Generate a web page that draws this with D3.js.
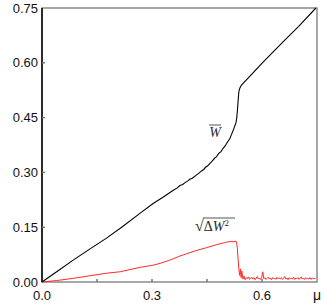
<!DOCTYPE html>
<html>
<head>
<meta charset="utf-8">
<script src="https://cdn.jsdelivr.net/npm/d3@7"></script>
<style>
  body { margin: 0; background: #fff; }
  svg { display: block; }
</style>
</head>
<body>
<svg id="chart" width="327" height="305"></svg>
<script>
// mean W versus mu (black)
const muW = [0, 0.04, 0.085, 0.13, 0.176, 0.22, 0.267, 0.303, 0.33, 0.349, 0.358, 0.368, 0.376, 0.384, 0.39, 0.397, 0.403, 0.41, 0.42, 0.428, 0.435, 0.441, 0.446, 0.452, 0.458, 0.464, 0.47, 0.476, 0.482, 0.488, 0.494, 0.50, 0.505, 0.512, 0.517, 0.524, 0.529, 0.531, 0.533, 0.535, 0.537, 0.540, 0.544, 0.603, 0.66, 0.70, 0.747];
const valW = [0, 0.028, 0.060, 0.090, 0.120, 0.152, 0.188, 0.215, 0.232, 0.245, 0.251, 0.257, 0.264, 0.267, 0.272, 0.276, 0.281, 0.284, 0.292, 0.298, 0.304, 0.308, 0.314, 0.318, 0.325, 0.331, 0.338, 0.343, 0.352, 0.357, 0.366, 0.373, 0.382, 0.392, 0.404, 0.422, 0.436, 0.448, 0.470, 0.498, 0.522, 0.532, 0.539, 0.602, 0.660, 0.700, 0.750];

// fluctuation sqrt(<dW^2>) versus mu (red)
const muD = [0, 0.04, 0.085, 0.13, 0.176, 0.213, 0.267, 0.303, 0.322, 0.349, 0.376, 0.394, 0.42, 0.449, 0.475, 0.503, 0.515, 0.522, 0.529, 0.531, 0.533, 0.535, 0.537, 0.539,
  0.541, 0.543, 0.545, 0.548, 0.551, 0.554, 0.557, 0.560, 0.563, 0.566, 0.569, 0.572, 0.575, 0.578, 0.581, 0.584, 0.587, 0.590, 0.593, 0.596, 0.599, 0.602, 0.605, 0.608, 0.611,
  0.614, 0.617, 0.620, 0.623, 0.626, 0.629, 0.632, 0.635, 0.638, 0.641, 0.644, 0.647, 0.650, 0.653, 0.656, 0.659, 0.662, 0.665, 0.668, 0.671, 0.674, 0.677, 0.680,
  0.683, 0.686, 0.689, 0.692, 0.695, 0.698, 0.701, 0.704, 0.707, 0.710, 0.713, 0.716, 0.719, 0.722, 0.725, 0.728, 0.731, 0.734, 0.737, 0.740, 0.745];
const valD = [0, 0.004, 0.010, 0.017, 0.024, 0.028, 0.040, 0.046, 0.051, 0.060, 0.071, 0.077, 0.086, 0.094, 0.102, 0.109, 0.111, 0.110, 0.112, 0.106, 0.090, 0.060, 0.034, 0.018,
  0.036, 0.012, 0.030, 0.008, 0.016, 0.006, 0.012, 0.009, 0.014, 0.007, 0.011, 0.013, 0.008, 0.012, 0.006, 0.010, 0.015, 0.008, 0.011, 0.007, 0.012, 0.028, 0.009, 0.012, 0.007,
  0.010, 0.013, 0.008, 0.011, 0.006, 0.012, 0.009, 0.010, 0.007, 0.013, 0.009, 0.011, 0.008, 0.012, 0.007, 0.010, 0.015, 0.008, 0.011, 0.006, 0.012, 0.009, 0.010,
  0.008, 0.013, 0.007, 0.011, 0.009, 0.012, 0.007, 0.010, 0.014, 0.008, 0.011, 0.007, 0.012, 0.009, 0.010, 0.008, 0.012, 0.007, 0.011, 0.009, 0.010];

const xTicks = [0, 0.15, 0.3, 0.45, 0.6];
const xLabels = [0, 0.3, 0.6];
const yTicks = [0, 0.15, 0.3, 0.45, 0.6, 0.75];

const svg = d3.select("#chart");
const margin = {left: 42, right: 317, top: 8, bottom: 282};

const x = d3.scaleLinear().domain([0, 0.75]).range([margin.left, margin.right]);
const y = d3.scaleLinear().domain([0, 0.75]).range([margin.bottom, margin.top]);

// frame
svg.append("rect")
	.attr("x", margin.left).attr("y", margin.top)
	.attr("width", margin.right - margin.left).attr("height", margin.bottom - margin.top)
	.attr("fill", "none").attr("stroke", "#8a8a8a").attr("stroke-width", 1.5);
svg.append("line")
	.attr("x1", margin.left).attr("x2", margin.left).attr("y1", margin.top).attr("y2", margin.bottom)
	.attr("stroke", "#000").attr("stroke-width", 1.5);

// inner ticks
svg.selectAll("line.xt")
	.data(xTicks.slice(1))
	.join("line")
		.attr("class", "xt")
		.attr("x1", d => x(d)).attr("x2", d => x(d))
		.attr("y1", margin.bottom).attr("y2", margin.bottom - 3)
		.attr("stroke", "#777").attr("stroke-width", 1.5);
svg.selectAll("line.yt")
	.data(yTicks.slice(1, -1))
	.join("line")
		.attr("class", "yt")
		.attr("x1", margin.left).attr("x2", margin.left + 3)
		.attr("y1", d => y(d)).attr("y2", d => y(d))
		.attr("stroke", "#777").attr("stroke-width", 1.5);

// tick labels
const font = "'Liberation Sans', Arial, sans-serif";
svg.selectAll("text.yl")
	.data(yTicks)
	.join("text")
		.attr("class", "yl")
		.attr("x", 38).attr("y", d => y(d) + 4.5)
		.attr("text-anchor", "end")
		.style("font-family", font).style("font-size", "13px")
		.attr("fill", "#111")
		.text(d => d.toFixed(2));
svg.selectAll("text.xl")
	.data(xLabels)
	.join("text")
		.attr("class", "xl")
		.attr("x", d => x(d)).attr("y", 300)
		.attr("text-anchor", "middle")
		.style("font-family", font).style("font-size", "13px")
		.attr("fill", "#111")
		.text(d => d.toFixed(1));
svg.append("text")
	.attr("x", x(0.75)).attr("y", 300)
	.attr("text-anchor", "middle")
	.style("font-family", font).style("font-size", "14px")
	.attr("fill", "#111")
	.text("μ");

// curves
const line = d3.line().x(d => x(d[0])).y(d => y(d[1]));
svg.append("path")
	.datum(muD.map((m, i) => [m, valD[i]]))
	.attr("d", line)
	.attr("fill", "none").attr("stroke", "#ff2a2a").attr("stroke-width", 1);
svg.append("path")
	.datum(muW.map((m, i) => [m, valW[i]]))
	.attr("d", line)
	.attr("fill", "none").attr("stroke", "#000").attr("stroke-width", 1.1);

// curve labels
const serif = "'Liberation Serif', 'Times New Roman', serif";
svg.append("text")
	.attr("x", 215).attr("y", 137)
	.attr("text-anchor", "middle")
	.style("font-family", serif).style("font-size", "14px").style("font-style", "italic")
	.attr("fill", "#2a2a2a")
	.text("W");
svg.append("line")
	.attr("x1", 209).attr("x2", 221).attr("y1", 125).attr("y2", 125)
	.attr("stroke", "#2a2a2a").attr("stroke-width", 0.8);

const dl = svg.append("text")
	.attr("x", 195).attr("y", 231)
	.style("font-family", serif).style("font-size", "14px")
	.attr("fill", "#2a2a2a");
dl.append("tspan").style("font-size", "16px").text("√");
dl.append("tspan").style("font-style", "normal").text("Δ");
dl.append("tspan").style("font-style", "italic").text("W");
dl.append("tspan").attr("dy", -5).style("font-size", "9px").text("2");
svg.append("line")
	.attr("x1", 203).attr("x2", 235).attr("y1", 218).attr("y2", 218)
	.attr("stroke", "#2a2a2a").attr("stroke-width", 0.8);
</script>
</body>
</html>
